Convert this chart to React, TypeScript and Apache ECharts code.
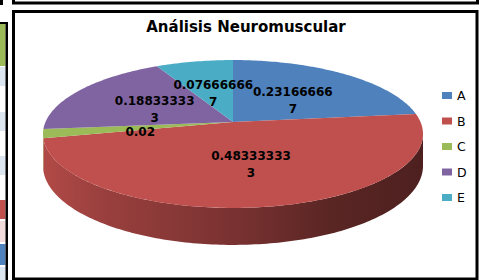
import React, { useEffect, useRef } from 'react';
import * as echarts from 'echarts';

const chartTitle = 'Análisis Neuromuscular';
const categories = ['A', 'B', 'C', 'D', 'E'];
const values = [0.231666667, 0.483333333, 0.02, 0.188333333, 0.076666667];
const colors = ['#4f81bd', '#c0504d', '#9bbb59', '#8064a2', '#4bacc6'];

// projection of the tilted pie (perspective ellipse)
const CX = 233;
const CY = 122;
const RA = 187.5;
const RB = 72;
const K = 0.162;
const DEPTH = 31;

function proj(phi: number, r = 1): [number, number, number] {
  const u = r * Math.sin(phi);
  const v = -r * Math.cos(phi);
  const s = 1 / (1 - K * v);
  return [CX + RA * u * s, CY + RB * v * s, s];
}

function shade(hex: string, f: number): string {
  const n = parseInt(hex.slice(1), 16);
  const r = Math.round(((n >> 16) & 255) * f);
  const g = Math.round(((n >> 8) & 255) * f);
  const b = Math.round((n & 255) * f);
  return `rgb(${r},${g},${b})`;
}

function wrapLabel(v: number): string {
  const s = String(v);
  const parts: string[] = [];
  for (let i = 0; i < s.length; i += 10) parts.push(s.slice(i, i + 10));
  return parts.join('\n');
}

function makeRenderItem(idx: number) {
  return (params: any, api: any) => {
    const total = values.reduce((a, b) => a + b, 0);
    let before = 0;
    for (let j = 0; j < idx; j++) before += values[j];
    const v = api.value(0) as number;
    const start = (before / total) * Math.PI * 2;
    const end = ((before + v) / total) * Math.PI * 2;
    const step = Math.PI / 180;
    const color = colors[idx];

    const topPts: number[][] = [[CX, CY]];
    for (let t = start; t < end; t += step) {
      const p = proj(t);
      topPts.push([p[0], p[1]]);
    }
    const pe = proj(end);
    topPts.push([pe[0], pe[1]]);

    const children: any[] = [];
    const a0 = Math.acos(-K);
    const a1 = Math.PI * 2 - a0;
    const s0 = Math.max(start, a0);
    const s1 = Math.min(end, a1);
    if (s1 > s0) {
      const up: number[][] = [];
      const down: number[][] = [];
      const ts: number[] = [];
      for (let t = s0; t < s1; t += step) ts.push(t);
      ts.push(s1);
      for (const t of ts) {
        const p = proj(t);
        up.push([p[0], p[1]]);
        down.push([p[0], p[1] + DEPTH * p[2]]);
      }
      const pts = up.concat(down.reverse());
      children.push({
        type: 'polygon',
        z2: 1,
        shape: { points: pts },
        style: {
          fill: {
            type: 'linear',
            global: true,
            x: 44,
            y: 0,
            x2: 424,
            y2: 0,
            colorStops: [
              { offset: 0, color: shade(color, 0.92) },
              { offset: 0.15, color: shade(color, 0.8) },
              { offset: 0.5, color: shade(color, 0.63) },
              { offset: 0.75, color: shade(color, 0.47) },
              { offset: 1, color: shade(color, 0.4) },
            ],
          },
          stroke: null,
        },
      });
    }
    children.push({
      type: 'polygon',
      z2: 10,
      shape: { points: topPts },
      style: { fill: color, stroke: null },
    });
    const mid = (start + end) / 2;
    const lp = proj(mid, 0.5);
    children.push({
      type: 'text',
      z2: 100,
      x: lp[0] + 1,
      y: lp[1] + 4,
      style: {
        text: wrapLabel(v),
        fill: '#000',
        fontFamily: 'DejaVu Sans',
        fontWeight: 'bold',
        fontSize: 12,
        lineHeight: 16.5,
        align: 'center',
        verticalAlign: 'middle',
      },
    });
    return { type: 'group', children };
  };
}

export default function App() {
  const ref = useRef<HTMLDivElement>(null);
  useEffect(() => {
    if (!ref.current) return;
    const chart = echarts.init(ref.current, undefined, { renderer: 'svg' });
    const series = categories.map((name, i) => ({
      type: 'custom',
      name,
      coordinateSystem: 'none',
      itemStyle: { color: colors[i] },
      data: [values[i]],
      renderItem: makeRenderItem(i),
    }));
    chart.setOption({
      animation: false,
      backgroundColor: '#ffffff',
      legend: {
        orient: 'vertical',
        left: 437,
        top: 84,
        itemWidth: 10,
        itemHeight: 7,
        itemGap: 12.5,
        icon: 'rect',
        data: categories,
        textStyle: { fontFamily: 'DejaVu Sans', fontSize: 12.5, color: '#000' },
      },
      graphic: [
        // left partial sheet strip
        { type: 'rect', shape: { x: 0, y: 0, width: 3, height: 5 }, style: { fill: '#000' } },
        { type: 'rect', shape: { x: 0, y: 24, width: 5.5, height: 42 }, style: { fill: '#9bbb59' } },
        { type: 'rect', shape: { x: 0, y: 22, width: 7, height: 2 }, style: { fill: '#000' } },
        { type: 'rect', shape: { x: 0, y: 67, width: 5.5, height: 19 }, style: { fill: '#dce6f1' } },
        { type: 'rect', shape: { x: 0, y: 112, width: 5.5, height: 19 }, style: { fill: '#dce6f1' } },
        { type: 'rect', shape: { x: 0, y: 156, width: 5.5, height: 19 }, style: { fill: '#dce6f1' } },
        { type: 'rect', shape: { x: 0, y: 200, width: 5.5, height: 19 }, style: { fill: '#c0504d' } },
        { type: 'rect', shape: { x: 0, y: 221, width: 5.5, height: 21 }, style: { fill: '#f2dcdb' } },
        { type: 'rect', shape: { x: 0, y: 244, width: 5.5, height: 21 }, style: { fill: '#4f81bd' } },
        { type: 'rect', shape: { x: 0, y: 267, width: 5.5, height: 13 }, style: { fill: '#dce6f1' } },
        { type: 'rect', shape: { x: 5.5, y: 22, width: 2.5, height: 258 }, style: { fill: '#000' } },
        // top chart box (cut off)
        {
          type: 'rect',
          shape: { x: 13.5, y: -20, width: 464, height: 23 },
          style: { fill: 'none', stroke: '#000', lineWidth: 3 },
        },
        // main chart frame
        {
          type: 'rect',
          shape: { x: 13.5, y: 11.5, width: 463.5, height: 267.5 },
          style: { fill: 'none', stroke: '#000', lineWidth: 3 },
        },
        {
          type: 'text',
          x: 246,
          y: 27,
          style: {
            text: chartTitle,
            fill: '#000',
            fontFamily: 'DejaVu Sans',
            fontWeight: 'bold',
            fontSize: 15,
            align: 'center',
            verticalAlign: 'middle',
          },
        },
      ],
      series,
    });
    return () => chart.dispose();
  }, []);
  return (
    <div
      ref={ref}
      style={{ position: 'absolute', left: 0, top: 0, width: 482, height: 280 }}
    />
  );
}
